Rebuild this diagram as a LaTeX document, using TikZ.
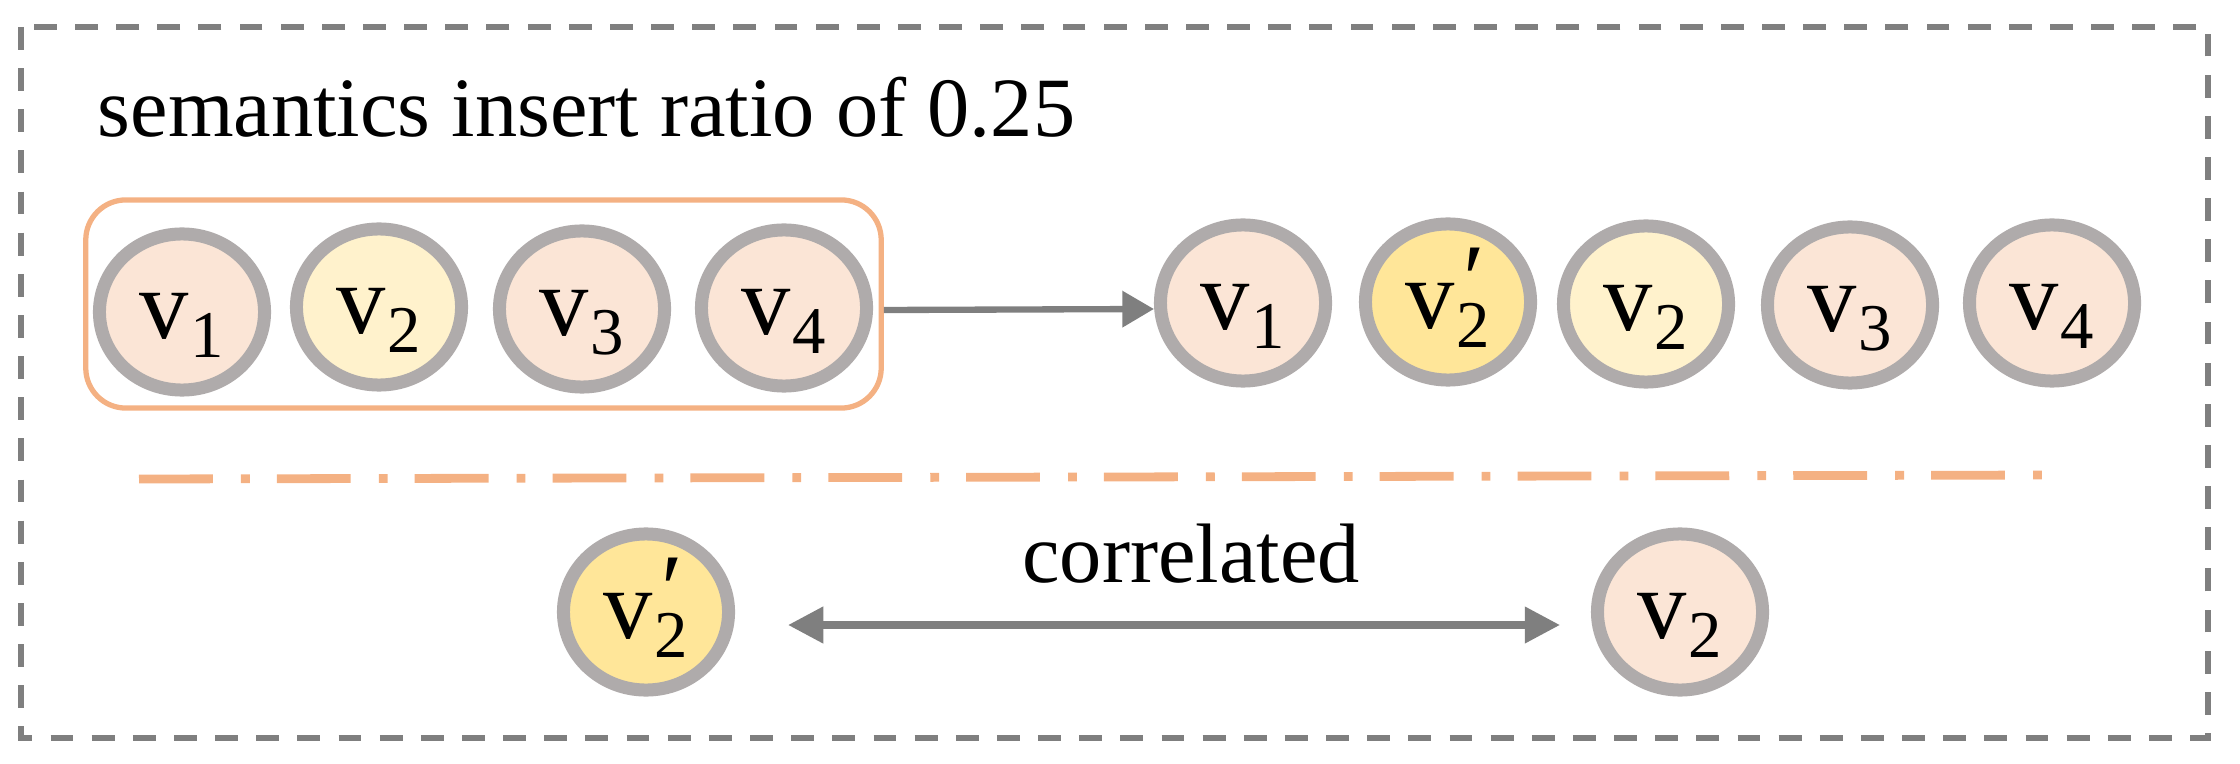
\documentclass[tikz,border=0pt]{standalone}
\usepackage{fontspec}
\setmainfont{Liberation Serif}
\usetikzlibrary{shapes.geometric,arrows.meta}
\definecolor{ringgray}{HTML}{AFABAB}
\definecolor{pinkfill}{HTML}{FBE5D6}
\definecolor{lyellow}{HTML}{FFF2CC}
\definecolor{dyellow}{HTML}{FFE699}
\definecolor{orangeline}{HTML}{F4B183}
\definecolor{arrowgray}{HTML}{7F7F7F}
\newcommand{\vlab}[1]{\fontsize{28}{30}\selectfont v\hspace{0.5pt}\raisebox{-5.4pt}{\fontsize{19}{20}\selectfont #1}}
\newcommand{\vplab}[1]{\fontsize{28}{30}\selectfont v\rlap{\hspace{2.5pt}\raisebox{4.5pt}{′}}\hspace{0.5pt}\raisebox{-5.6pt}{\fontsize{19}{20}\selectfont #1}}
\begin{document}
\begin{tikzpicture}[x=0.01cm,y=-0.01cm,
  tok/.style={ellipse, draw=ringgray, line width=3.7pt, minimum width=1.65cm,
              minimum height=1.56cm, inner sep=0pt, text height=0.6cm, text depth=0.08cm},
  pk/.style={tok, fill=pinkfill},
  ly/.style={tok, fill=lyellow},
  dy/.style={tok, fill=dyellow},
  groupbox/.style={draw=orangeline, line width=1.5pt, rounded corners=0.4cm,
              minimum width=7.95cm, minimum height=2.08cm, inner sep=0pt},
  framebox/.style={draw=arrowgray, line width=1.9pt, dash pattern=on 6.5pt off 5.2pt},
  sepline/.style={draw=orangeline, line width=2.5pt,
              dash pattern=on 21pt off 8pt on 2.5pt off 7.7pt},
  conn/.style={draw=arrowgray, line width=1.8pt, -{Triangle[length=9pt,width=10pt]}},
  dconn/.style={draw=arrowgray, line width=2pt, {Triangle[length=10pt,width=10pt]}-{Triangle[length=10pt,width=10pt]}},
  lbl/.style={font=\fontsize{24}{26}\selectfont, inner sep=0pt}]
\path[use as bounding box] (0,0) rectangle (2240,764);
\path[framebox] (21,27) rectangle (2208,738);
\node[lbl, anchor=base west] (title) at (97,137) {semantics insert ratio of 0.25};
% left group
\node[groupbox] (grp) at (483.5,304) {};
\node[pk] (a1) at (182,312) {\vlab{1}};
\node[ly] (a2) at (379,307) {\vlab{2}};
\node[pk] (a3) at (582,309) {\vlab{3}};
\node[pk] (a4) at (784,308) {\vlab{4}};
% right sequence
\node[pk] (r1) at (1243,303) {\vlab{1}};
\node[dy] (r2p) at (1448,302) {\vplab{2}};
\node[ly] (r2) at (1646,304) {\vlab{2}};
\node[pk] (r3) at (1850,305) {\vlab{3}};
\node[pk] (r4) at (2052,303) {\vlab{4}};
\draw[conn] ([yshift=-0.06cm]grp.east) -- ([yshift=-0.06cm]r1.west);
% separator
\coordinate (s1) at (139,479);
\coordinate (s2) at (2068,475);
\draw[sepline] (s1) -- (s2);
% bottom
\node[dy] (b1) at (646,612) {\vplab{2}};
\node[pk] (b2) at (1680,612) {\vlab{2}};
\draw[dconn, shorten <=0.53cm, shorten >=0.31cm] ([yshift=-0.13cm]b1.east) -- ([yshift=-0.13cm]b2.west);
\node[lbl, anchor=base] (corr) at (1191,582) {correlated};
\end{tikzpicture}
\end{document}
